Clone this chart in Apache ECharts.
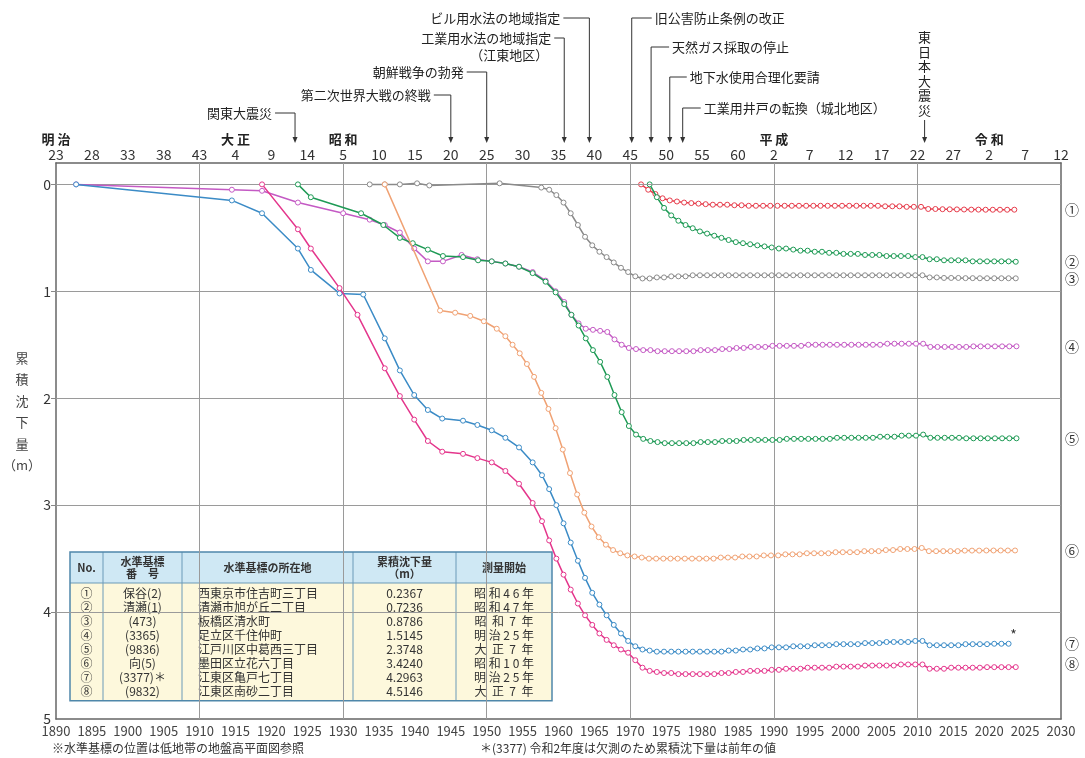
<!DOCTYPE html>
<html>
<head>
<meta charset="utf-8">
<script src="https://cdn.jsdelivr.net/npm/echarts@6/dist/echarts.min.js"></script>
<style>
  html, body { margin: 0; background: #fff; }
  #chart { width: 1085px; height: 758px; }
</style>
</head>
<body>
<div id="chart"></div>
<script>
var FONT = '"Noto Sans CJK JP", "Noto Sans", sans-serif';

// --- tick labels ---
var bottomTicks = ['1890','1895','1900','1905','1910','1915','1920','1925','1930','1935','1940','1945','1950','1955','1960','1965','1970','1975','1980','1985','1990','1995','2000','2005','2010','2015','2020','2025','2030'];
var topTicks = ['23','28','33','38','43','4','9','14','5','10','15','20','25','30','35','40','45','50','55','60','2','7','12','17','22','27','2','7','12'];
var eraYears = [1890, 1915, 1930, 1990, 2020];
var eraNames = ['明 治', '大 正', '昭 和', '平 成', '令 和'];
var yTicks = [0, 1, 2, 3, 4, 5];
var gridYears = [1910, 1930, 1950, 1970, 1990, 2010];

// --- events ---
var eventNames = ['関東大震災', '第二次世界大戦の終戦', '朝鮮戦争の勃発', '工業用水法の地域指定\n（江東地区）', 'ビル用水法の地域指定',
  '旧公害防止条例の改正', '天然ガス採取の停止', '地下水使用合理化要請', '工業用井戸の転換（城北地区）', '東日本大震災'];
var eventYears = [1923.3, 1945, 1950, 1960.8, 1964.3, 1970.2, 1972.9, 1975.5, 1977.3, 2011];

// --- series: irregular early points [year, m] + annual values from a start year ---
var names = ['①', '②', '③', '④', '⑤', '⑥', '⑦', '⑧'];
var colors = ['#e63c4b', '#1e9a55', '#8a8a8a', '#c45ac4', '#1e9a55', '#f0a274', '#3b8bc6', '#e4368c'];

var s1Early = [];
var s1Start = 1971.5;
var s1Annual = [0, 0.05, 0.09, 0.13, 0.15, 0.16, 0.17, 0.175, 0.18, 0.185,
  0.19, 0.19, 0.19, 0.195, 0.195, 0.2, 0.2, 0.2, 0.2, 0.2,
  0.2, 0.2, 0.2, 0.2, 0.2, 0.2, 0.2, 0.2, 0.2, 0.2,
  0.2, 0.2, 0.2, 0.2, 0.205, 0.205, 0.205, 0.21, 0.21, 0.21,
  0.23, 0.23, 0.232, 0.233, 0.234, 0.235, 0.236, 0.236, 0.237, 0.237,
  0.237, 0.237, 0.2367];

var s2Early = [];
var s2Start = 1972.7;
var s2Annual = [0, 0.12, 0.22, 0.29, 0.34, 0.38, 0.41, 0.44, 0.46, 0.48,
  0.5, 0.52, 0.54, 0.55, 0.56, 0.57, 0.58, 0.59, 0.6, 0.6,
  0.61, 0.62, 0.62, 0.63, 0.63, 0.64, 0.64, 0.65, 0.65, 0.65,
  0.66, 0.66, 0.66, 0.67, 0.67, 0.67, 0.67, 0.68, 0.68,
  0.70, 0.70, 0.71, 0.71, 0.71, 0.71, 0.72, 0.72, 0.72, 0.72, 0.72, 0.72, 0.7236];

var s3Early = [[1933.7, 0], [1935.8, 0], [1937.9, 0], [1940.3, -0.01], [1942, 0.01], [1951.8, -0.01], [1957.6, 0.03]];
var s3Start = 1958.7;
var s3Annual = [0.05, 0.1, 0.17, 0.27, 0.38, 0.49, 0.57, 0.63, 0.68, 0.73,
  0.78, 0.82, 0.86, 0.88, 0.88, 0.87, 0.87, 0.86, 0.86, 0.86,
  0.85, 0.85, 0.85, 0.85, 0.85, 0.85, 0.85, 0.85, 0.85, 0.85,
  0.85, 0.85, 0.85, 0.85, 0.85, 0.85, 0.85, 0.85, 0.85, 0.85,
  0.85, 0.85, 0.85, 0.85, 0.85, 0.85, 0.85, 0.85, 0.85, 0.85,
  0.85, 0.85, 0.85,
  0.87, 0.87, 0.875, 0.875, 0.875, 0.877, 0.877, 0.878, 0.878, 0.878, 0.878, 0.878, 0.8786];

var s4Early = [[1892.8, 0], [1914.5, 0.05], [1918.7, 0.06], [1923.7, 0.17], [1930, 0.27], [1933.7, 0.33], [1935.8, 0.38],
  [1937.9, 0.45], [1939.9, 0.6], [1941.8, 0.72], [1943.9, 0.72], [1946.5, 0.66], [1948.7, 0.7], [1950.7, 0.72],
  [1952.6, 0.74], [1954.5, 0.77], [1956.4, 0.82], [1958.2, 0.9], [1959.6, 1.0], [1960.8, 1.1], [1961.8, 1.22]];
var s4Start = 1962.8;
var s4Annual = [1.3, 1.35, 1.36, 1.37, 1.38, 1.45, 1.5, 1.53, 1.54, 1.55,
  1.55, 1.56, 1.56, 1.56, 1.56, 1.56, 1.56, 1.55, 1.55, 1.55,
  1.54, 1.54, 1.53, 1.53, 1.52, 1.52, 1.52, 1.51, 1.51, 1.51,
  1.51, 1.51, 1.5, 1.5, 1.5, 1.5, 1.5, 1.5, 1.5, 1.5,
  1.5, 1.5, 1.5, 1.49, 1.49, 1.49, 1.49, 1.49, 1.49,
  1.52, 1.52, 1.52, 1.52, 1.52, 1.52, 1.515, 1.515, 1.515, 1.515, 1.515, 1.515, 1.5145];

var s5Early = [[1923.7, 0], [1925.5, 0.12], [1932.5, 0.27], [1935.6, 0.38], [1937.9, 0.5], [1939.7, 0.55], [1941.8, 0.61],
  [1943.9, 0.67], [1946.7, 0.68], [1948.8, 0.71], [1950.7, 0.72], [1952.6, 0.74], [1954.5, 0.77], [1956.4, 0.83],
  [1958.2, 0.91], [1959.6, 1.01], [1960.8, 1.12], [1961.8, 1.22]];
var s5Start = 1962.8;
var s5Annual = [1.32, 1.44, 1.55, 1.66, 1.8, 1.97, 2.13, 2.26, 2.34, 2.38,
  2.4, 2.41, 2.42, 2.42, 2.42, 2.42, 2.42, 2.41, 2.41, 2.41,
  2.4, 2.4, 2.4, 2.39, 2.39, 2.39, 2.39, 2.39, 2.39, 2.38,
  2.38, 2.38, 2.38, 2.38, 2.38, 2.38, 2.37, 2.37, 2.37, 2.37,
  2.37, 2.37, 2.36, 2.36, 2.36, 2.35, 2.35, 2.35, 2.34,
  2.37, 2.37, 2.37, 2.37, 2.37, 2.375, 2.375, 2.375, 2.375, 2.375, 2.375, 2.375, 2.3748];

var s6Early = [[1935.8, 0], [1943.5, 1.18], [1945.6, 1.2], [1947.7, 1.23], [1949.6, 1.28], [1951.4, 1.35], [1952.6, 1.42],
  [1953.6, 1.5], [1954.6, 1.58], [1955.6, 1.68], [1956.6, 1.8], [1957.6, 1.95], [1958.6, 2.1]];
var s6Start = 1959.6;
var s6Annual = [2.28, 2.48, 2.7, 2.9, 3.07, 3.2, 3.3, 3.37, 3.42, 3.45,
  3.47, 3.48, 3.49, 3.5, 3.5, 3.5, 3.5, 3.5, 3.5, 3.5,
  3.5, 3.5, 3.5, 3.49, 3.49, 3.49, 3.48, 3.48, 3.48, 3.47,
  3.47, 3.47, 3.46, 3.46, 3.46, 3.45, 3.45, 3.45, 3.45, 3.44,
  3.44, 3.44, 3.44, 3.43, 3.43, 3.43, 3.42, 3.42, 3.41, 3.41, 3.41, 3.4,
  3.43, 3.43, 3.43, 3.43, 3.43, 3.425, 3.425, 3.425, 3.424, 3.424, 3.424, 3.424, 3.424];

var s7Early = [[1892.8, 0], [1914.5, 0.15], [1918.7, 0.27], [1923.7, 0.6], [1925.5, 0.8], [1929.5, 1.02], [1932.8, 1.03],
  [1935.8, 1.44], [1937.9, 1.74], [1939.9, 1.97], [1941.8, 2.11], [1943.8, 2.19], [1946.7, 2.21], [1948.7, 2.25],
  [1950.7, 2.3], [1952.6, 2.37], [1954.5, 2.46], [1956.4, 2.6], [1957.7, 2.72]];
var s7Start = 1958.7;
var s7Annual = [2.85, 3.0, 3.17, 3.35, 3.52, 3.68, 3.82, 3.93, 4.03, 4.12,
  4.2, 4.27, 4.32, 4.35, 4.36, 4.37, 4.37, 4.37, 4.37, 4.37,
  4.37, 4.37, 4.37, 4.37, 4.37, 4.36, 4.36, 4.35, 4.35, 4.34,
  4.34, 4.33, 4.33, 4.33, 4.32, 4.32, 4.32, 4.31, 4.31, 4.31,
  4.3, 4.3, 4.3, 4.3, 4.29, 4.29, 4.29, 4.28, 4.28, 4.28, 4.28, 4.27, 4.27,
  4.31, 4.31, 4.31, 4.31, 4.31, 4.3, 4.3, 4.3, 4.3, 4.2963, 4.2963, 4.2963];

var s8Early = [[1918.7, 0], [1923.7, 0.42], [1925.5, 0.6], [1929.5, 0.97], [1932, 1.22], [1935.8, 1.72], [1937.9, 1.98],
  [1939.9, 2.2], [1941.8, 2.4], [1943.8, 2.5], [1946.7, 2.52], [1948.7, 2.56], [1950.7, 2.6], [1952.6, 2.68],
  [1954.5, 2.8], [1956.4, 2.98], [1957.7, 3.15]];
var s8Start = 1958.7;
var s8Annual = [3.33, 3.5, 3.65, 3.79, 3.92, 4.03, 4.12, 4.2, 4.26, 4.31,
  4.35, 4.38, 4.45, 4.52, 4.55, 4.56, 4.57, 4.57, 4.58, 4.58,
  4.58, 4.58, 4.58, 4.58, 4.57, 4.57, 4.56, 4.56, 4.55, 4.55,
  4.55, 4.54, 4.54, 4.53, 4.53, 4.53, 4.52, 4.52, 4.52, 4.52,
  4.51, 4.51, 4.51, 4.51, 4.5, 4.5, 4.5, 4.5, 4.5, 4.49, 4.49, 4.49, 4.49,
  4.53, 4.53, 4.53, 4.52, 4.52, 4.52, 4.52, 4.52, 4.515, 4.515, 4.515, 4.515, 4.5146];

// --- table ---
var tableHead = ['No.', '水準基標\n番　号', '水準基標の所在地', '累積沈下量\n（m）', '測量開始'];
var tableCode = ['保谷(2)', '清瀬(1)', '(473)', '(3365)', '(9836)', '向(5)', '(3377)＊', '(9832)'];
var tablePlace = ['西東京市住吉町三丁目', '清瀬市旭が丘二丁目', '板橋区清水町', '足立区千住仲町', '江戸川区中葛西三丁目', '墨田区立花六丁目', '江東区亀戸七丁目', '江東区南砂二丁目'];
var tableValue = ['0.2367', '0.7236', '0.8786', '1.5145', '2.3748', '3.4240', '4.2963', '4.5146'];
var tableStart = ['昭 和 4 6 年', '昭 和 4 7 年', '昭  和  7  年', '明 治 2 5 年', '大  正  7  年', '昭 和 1 0 年', '明 治 2 5 年', '大  正  7  年'];

function build(early, start, annual) {
  var out = early.slice();
  for (var i = 0; i < annual.length; i++) out.push([start + i, annual[i]]);
  return out;
}
var seriesData = [
  build(s1Early, s1Start, s1Annual), build(s2Early, s2Start, s2Annual),
  build(s3Early, s3Start, s3Annual), build(s4Early, s4Start, s4Annual),
  build(s5Early, s5Start, s5Annual), build(s6Early, s6Start, s6Annual),
  build(s7Early, s7Start, s7Annual), build(s8Early, s8Start, s8Annual)
];

var chart = echarts.init(document.getElementById('chart'), null, { renderer: 'canvas' });

var gridLines = [];
yTicks.slice(0, 5).forEach(function(v) { gridLines.push({ yAxis: v }); });
gridYears.forEach(function(v) { gridLines.push({ xAxis: v }); });

var series = [{
  type: 'line', data: [], silent: true, z: 1,
  markLine: {
    silent: true, symbol: 'none', animation: false, label: { show: false },
    lineStyle: { color: '#9a9a9a', width: 1, type: 'solid' },
    data: gridLines
  }
}];
seriesData.forEach(function(d, i) {
  series.push({
    name: names[i], type: 'line', data: d, z: 3 + i,
    symbol: 'circle', symbolSize: 5, showSymbol: true,
    lineStyle: { color: colors[i], width: 1.5 },
    itemStyle: { color: '#fff', borderColor: colors[i], borderWidth: 1 }
  });
});

var eraAt = {};
eraYears.forEach(function(y, i) { eraAt[y] = eraNames[i]; });

chart.setOption({
  animation: false,
  textStyle: { fontFamily: FONT },
  grid: { left: 56, right: 24, top: 163, bottom: 39 },
  xAxis: [{
    type: 'value', min: 1890, max: 2030, interval: 5, position: 'bottom',
    axisLine: { show: true, onZero: false, lineStyle: { color: '#666', width: 1.5 } },
    axisTick: { show: false }, splitLine: { show: false },
    axisLabel: {
      color: '#444', fontSize: 13, margin: 6, fontFamily: FONT,
      formatter: function(v) { return bottomTicks[Math.round((v - 1890) / 5)]; }
    }
  }, {
    type: 'value', min: 1890, max: 2030, interval: 5, position: 'top',
    axisLine: { show: true, onZero: false, lineStyle: { color: '#666', width: 1.5 } },
    axisTick: { show: false }, splitLine: { show: false },
    axisLabel: {
      margin: 0, fontFamily: FONT,
      formatter: function(v) {
        var t = '{n|' + topTicks[Math.round((v - 1890) / 5)] + '}';
        return eraAt[v] ? '{e|' + eraAt[v] + '}\n' + t : t;
      },
      rich: {
        n: { fontSize: 14, color: '#333', lineHeight: 16, fontFamily: FONT },
        e: { fontSize: 13, color: '#222', fontWeight: 'bold', lineHeight: 15, fontFamily: FONT }
      }
    }
  }],
  yAxis: [{
    type: 'value', inverse: true, min: -0.2, max: 5, position: 'left',
    axisLine: { show: true, onZero: false, lineStyle: { color: '#666', width: 1.5 } },
    axisTick: { show: true, customValues: yTicks.slice(0, 5), length: 5, lineStyle: { color: '#888' } },
    splitLine: { show: false },
    axisLabel: { customValues: yTicks, color: '#333', fontSize: 14, margin: 5, fontFamily: FONT }
  }, {
    type: 'value', inverse: true, min: -0.2, max: 5, position: 'right',
    axisLine: { show: true, onZero: false, lineStyle: { color: '#666', width: 1.5 } },
    axisTick: { show: false }, axisLabel: { show: false }, splitLine: { show: false }
  }],
  series: series
});

// --- annotations, table and labels ---
var g = [];
function px(x, y) { return chart.convertToPixel({ xAxisIndex: 0, yAxisIndex: 0 }, [x, y]); }
var tipY = 143;
var evSide = ['L', 'L', 'L', 'L', 'L', 'R', 'R', 'R', 'R', 'V'];
var evY = [113, 95, 72, 38, 18, 18, 47, 77, 108, 30];
var evLen = [20, 17, 20, 10, 26, 20, 18, 17, 18, 0];
eventYears.forEach(function(yr, i) {
  var ax = px(yr, 0)[0];
  var y = evY[i];
  var lineStyle = { stroke: '#333', lineWidth: 1 };
  var top = y;
  if (evSide[i] === 'V') {
    top = 120;
    g.push({ type: 'text', x: ax, y: y, style: { text: eventNames[i].split('').join('\n'), font: '13px ' + FONT, fill: '#222', textAlign: 'center', textVerticalAlign: 'top', lineHeight: 14.5 } });
  } else {
    var lines = eventNames[i].split('\n');
    var tx = evSide[i] === 'L' ? ax - evLen[i] - 3 : ax + evLen[i] + 3;
    lines.forEach(function(t, k) {
      g.push({ type: 'text', x: tx - (k > 0 ? 3 : 0), y: y + k * 17, style: { text: t, font: '13px ' + FONT, fill: '#222', textAlign: evSide[i] === 'L' ? 'right' : 'left', textVerticalAlign: 'middle' } });
    });
    var x0 = evSide[i] === 'L' ? ax - evLen[i] : ax + evLen[i];
    g.push({ type: 'polyline', shape: { points: [[x0, y], [ax, y]] }, style: lineStyle });
  }
  g.push({ type: 'polyline', shape: { points: [[ax, top], [ax, tipY - 5]] }, style: lineStyle });
  g.push({ type: 'polygon', shape: { points: [[ax - 2.5, tipY - 6], [ax + 2.5, tipY - 6], [ax, tipY]] }, style: { fill: '#333' } });
});

// circled labels at the right
var labelDy = [0, 0, 0, 0, 0, 0, 0, -3];
seriesData.forEach(function(d, i) {
  var p = px(2030, d[d.length - 1][1]);
  g.push({ type: 'text', x: p[0] + 11, y: p[1] + labelDy[i], style: { text: names[i], font: '14px ' + FONT, fill: '#333', textAlign: 'center', textVerticalAlign: 'middle' } });
});
var s7Last = seriesData[6][seriesData[6].length - 1];
var ap = px(s7Last[0], s7Last[1]);
g.push({ type: 'text', x: ap[0] + 5, y: ap[1] - 9, style: { text: '*', font: '14px ' + FONT, fill: '#333', textAlign: 'center', textVerticalAlign: 'middle' } });

// y axis title
g.push({ type: 'text', x: 22, y: 347, style: { text: '累\n積\n沈\n下\n量\n（m）', font: '13px ' + FONT, fill: '#444', textAlign: 'center', textVerticalAlign: 'top', lineHeight: 21.5 } });

// table
var tx0 = 70, ty0 = 552, headH = 31, rowH = 14.1;
var colX = [70, 103, 182, 353, 456, 552];
var tableH = headH + rowH * 8 + 5;
g.push({ type: 'rect', shape: { x: tx0, y: ty0, width: colX[5] - tx0, height: headH }, style: { fill: '#cfe8f4' } });
g.push({ type: 'rect', shape: { x: tx0, y: ty0 + headH, width: colX[5] - tx0, height: tableH - headH }, style: { fill: '#fdf8dc' } });
for (var c = 1; c < 5; c++) {
  g.push({ type: 'line', shape: { x1: colX[c], y1: ty0, x2: colX[c], y2: ty0 + tableH }, style: { stroke: '#6a9ab8', lineWidth: 1 } });
}
g.push({ type: 'line', shape: { x1: tx0, y1: ty0 + headH, x2: colX[5], y2: ty0 + headH }, style: { stroke: '#6a9ab8', lineWidth: 1 } });
g.push({ type: 'rect', shape: { x: tx0, y: ty0, width: colX[5] - tx0, height: tableH }, style: { fill: 'none', stroke: '#4f87aa', lineWidth: 1.5 } });
tableHead.forEach(function(t, c) {
  g.push({ type: 'text', x: (colX[c] + colX[c + 1]) / 2, y: ty0 + headH / 2, style: { text: t, font: 'bold 11px ' + FONT, fill: '#333', textAlign: 'center', textVerticalAlign: 'middle', lineHeight: 12 } });
});
for (var r = 0; r < 8; r++) {
  var ry = ty0 + headH + 10 + r * rowH;
  var st = { font: '12px ' + FONT, fill: '#333', textVerticalAlign: 'middle' };
  g.push({ type: 'text', x: (colX[0] + colX[1]) / 2, y: ry, style: Object.assign({ text: names[r], textAlign: 'center' }, st) });
  g.push({ type: 'text', x: (colX[1] + colX[2]) / 2, y: ry, style: Object.assign({ text: tableCode[r], textAlign: 'center' }, st) });
  g.push({ type: 'text', x: colX[2] + 16, y: ry, style: Object.assign({ text: tablePlace[r], textAlign: 'left' }, st) });
  g.push({ type: 'text', x: (colX[3] + colX[4]) / 2, y: ry, style: Object.assign({ text: tableValue[r], textAlign: 'center' }, st) });
  g.push({ type: 'text', x: (colX[4] + colX[5]) / 2, y: ry, style: Object.assign({ text: tableStart[r], textAlign: 'center' }, st) });
}

// footnotes
g.push({ type: 'text', x: 52, y: 748, style: { text: '※水準基標の位置は低地帯の地盤高平面図参照', font: '12px ' + FONT, fill: '#333', textVerticalAlign: 'middle' } });
g.push({ type: 'text', x: 480, y: 748, style: { text: '＊(3377) 令和2年度は欠測のため累積沈下量は前年の値', font: '12px ' + FONT, fill: '#333', textVerticalAlign: 'middle' } });

chart.setOption({ graphic: g });
window.addEventListener('resize', function() { chart.resize(); });
</script>
</body>
</html>
